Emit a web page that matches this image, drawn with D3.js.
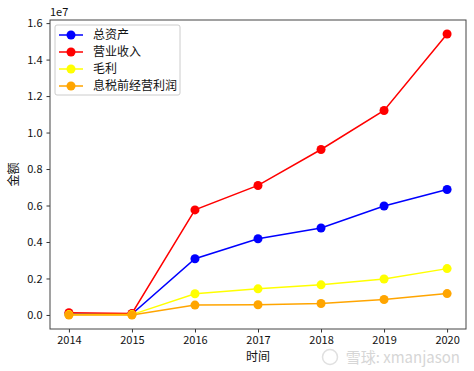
<!DOCTYPE html>
<html>
<head>
<meta charset="utf-8">
<script src="https://cdn.jsdelivr.net/npm/d3@7"></script>
<style>
  body { margin: 0; background: #fff; }
  text { font-family: "Noto Sans CJK SC", "DejaVu Sans", sans-serif; }
</style>
</head>
<body>
<svg id="chart"></svg>
<script>
// data (values in units of 1e7)
var years = [2014, 2015, 2016, 2017, 2018, 2019, 2020];
var seriesNames = ["总资产", "营业收入", "毛利", "息税前经营利润"];
var seriesColors = ["#0000ff", "#ff0000", "#ffff00", "#ffa500"];
var totalAssets = [0.005, 0.005, 0.308, 0.418, 0.477, 0.597, 0.688];
var revenue = [0.012, 0.008, 0.576, 0.710, 0.907, 1.121, 1.540];
var grossProfit = [0.002, 0.002, 0.116, 0.143, 0.165, 0.197, 0.254];
var ebit = [0.0, 0.0, 0.054, 0.056, 0.063, 0.085, 0.117];
var yTicks = [0.0, 0.2, 0.4, 0.6, 0.8, 1.0, 1.2, 1.4, 1.6];

var allSeries = [totalAssets, revenue, grossProfit, ebit];

var svgWidth = 474, svgHeight = 371;
var margin = { top: 20, right: 8, bottom: 42, left: 50 };
var width = svgWidth - margin.left - margin.right;
var height = svgHeight - margin.top - margin.bottom;

var svg = d3.select('#chart')
  .attr('width', svgWidth)
  .attr('height', svgHeight);

var chart = svg.append('g')
  .attr('transform', `translate(${margin.left}, ${margin.top})`);

var x = d3.scaleLinear().domain([2013.7, 2020.3]).range([0, width]);
var y = d3.scaleLinear().domain([-0.077, 1.617]).range([height, 0]);

// axes
var xAxis = chart.append('g')
  .attr('transform', `translate(0, ${height})`)
  .call(d3.axisBottom(x).tickValues(years).tickFormat(d3.format('d')).tickSize(3.5).tickPadding(4));
var yAxis = chart.append('g')
  .call(d3.axisLeft(y).tickValues(yTicks).tickFormat(d3.format('.1f')).tickSize(3.5).tickPadding(4));

[xAxis, yAxis].forEach(function(a) {
  a.select('.domain').remove();
  a.selectAll('line').attr('stroke', '#333');
  a.selectAll('text').attr('font-size', 11).attr('fill', '#111')
    .style('font-family', '"Noto Sans CJK SC", sans-serif');
});

// frame
chart.append('rect')
  .attr('width', width).attr('height', height)
  .attr('fill', 'none').attr('stroke', '#444').attr('stroke-width', 1);

// lines
var line = d3.line()
  .x((d, i) => x(years[i]))
  .y(d => y(d));

allSeries.forEach(function(s, k) {
  chart.append('path')
    .datum(s)
    .attr('fill', 'none')
    .attr('stroke', seriesColors[k])
    .attr('stroke-width', 1.5)
    .attr('d', line);
  chart.selectAll('.pt' + k)
    .data(s)
    .enter()
    .append('circle')
    .attr('cx', (d, i) => x(years[i]))
    .attr('cy', d => y(d))
    .attr('r', 4.5)
    .attr('fill', seriesColors[k]);
});

// legend
var legend = chart.append('g').attr('transform', 'translate(5, 5)');
legend.append('rect')
  .attr('width', 125).attr('height', 70).attr('rx', 2)
  .attr('fill', '#fff').attr('fill-opacity', 0.8)
  .attr('stroke', '#ccc');
seriesNames.forEach(function(name, k) {
  var g = legend.append('g').attr('transform', `translate(0, ${10 + k * 17})`);
  g.append('line').attr('x1', 4).attr('x2', 28)
    .attr('stroke', seriesColors[k]).attr('stroke-width', 1.5);
  g.append('circle').attr('cx', 16).attr('r', 4.5).attr('fill', seriesColors[k]);
  g.append('text').attr('x', 38).attr('dy', '0.35em')
    .attr('font-size', 12).attr('fill', '#111').text(name);
});

// labels
svg.append('text')
  .attr('x', margin.left).attr('y', 16)
  .attr('font-size', 11).attr('fill', '#111')
  .text('1e7');
svg.append('text')
  .attr('transform', `translate(18, ${margin.top + height / 2}) rotate(-90)`)
  .attr('text-anchor', 'middle')
  .attr('font-size', 12).attr('fill', '#111')
  .text('金额');
svg.append('text')
  .attr('x', margin.left + width / 2).attr('y', 361)
  .attr('text-anchor', 'middle')
  .attr('font-size', 12).attr('fill', '#111')
  .text('时间');

// watermark
var wm = svg.append('g').attr('opacity', 0.6);
wm.append('circle')
  .attr('cx', 330).attr('cy', 357).attr('r', 7.5)
  .attr('fill', 'none').attr('stroke', '#ccc').attr('stroke-width', 1.5);
wm.append('text')
  .attr('x', 460).attr('y', 363)
  .attr('text-anchor', 'end')
  .attr('font-size', 15).attr('fill', '#bbb')
  .text('雪球: xmanjason');
</script>
</body>
</html>
